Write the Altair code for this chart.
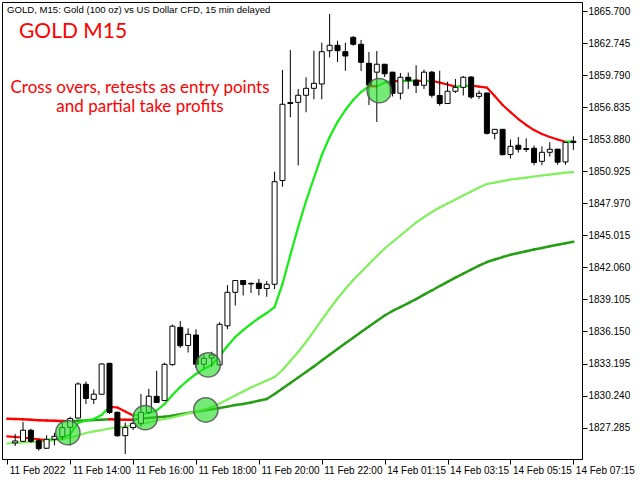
import altair as alt
import pandas as pd

# ---- GOLD M15 candles (11 Feb 12:15 .. 14 Feb 07:15), one row per bar index ----
opens = [1825.87, 1826.02, 1827.04, 1826.08, 1825.38, 1826.21, 1826.45, 1827.31, 1828.17, 1831.28,
         1829.89, 1830.36, 1833.21, 1828.70, 1826.54, 1827.29, 1827.68, 1828.70, 1830.17, 1829.78,
         1833.09, 1836.53, 1834.86, 1835.82, 1833.13, 1833.70, 1833.06, 1836.67, 1839.76, 1840.85,
         1840.53, 1840.60, 1840.11, 1840.50, 1850.07, 1857.26, 1857.28, 1857.93, 1858.57, 1858.97,
         1862.04, 1862.54, 1861.95, 1863.27, 1862.63, 1860.88, 1860.06, 1860.79, 1860.06, 1858.12,
         1859.59, 1859.32, 1858.85, 1860.06, 1857.91, 1857.17, 1858.30, 1858.66, 1859.61, 1857.83,
         1858.14, 1854.42, 1854.79, 1852.47, 1853.32, 1853.02, 1853.04, 1851.84, 1852.67, 1852.96,
         1851.78, 1853.69]
highs = [1826.70, 1827.80, 1827.18, 1826.21, 1826.58, 1826.81, 1827.71, 1828.29, 1831.46, 1831.54,
         1830.80, 1833.21, 1833.27, 1828.75, 1827.76, 1828.08, 1830.38, 1830.86, 1832.52, 1833.27,
         1836.79, 1837.11, 1836.44, 1836.35, 1834.12, 1834.28, 1837.00, 1840.42, 1840.87, 1840.87,
         1840.66, 1840.99, 1840.80, 1850.88, 1860.26, 1862.10, 1858.51, 1859.59, 1862.04, 1862.78,
         1865.42, 1862.96, 1862.78, 1863.39, 1863.03, 1861.92, 1862.01, 1860.81, 1860.08, 1859.98,
         1860.02, 1860.70, 1860.29, 1860.17, 1860.19, 1859.18, 1859.43, 1859.71, 1859.68, 1858.37,
         1858.16, 1854.82, 1854.82, 1853.85, 1854.08, 1853.96, 1853.30, 1853.21, 1853.60, 1852.97,
         1853.59, 1854.15]
lows = [1825.59, 1825.96, 1825.87, 1825.16, 1825.31, 1825.65, 1826.14, 1825.63, 1828.12, 1829.46,
        1829.46, 1830.34, 1828.54, 1826.45, 1824.85, 1827.06, 1827.37, 1828.54, 1829.55, 1829.74,
        1832.99, 1834.64, 1834.21, 1832.78, 1832.76, 1832.90, 1832.97, 1836.36, 1838.54, 1839.47,
        1839.70, 1839.47, 1839.35, 1840.07, 1849.50, 1855.90, 1851.47, 1856.36, 1857.56, 1857.56,
        1861.43, 1861.00, 1860.19, 1862.50, 1860.17, 1857.03, 1855.46, 1859.61, 1857.82, 1857.54,
        1858.51, 1858.14, 1858.51, 1857.71, 1856.97, 1857.14, 1858.14, 1857.91, 1857.60, 1857.59,
        1854.31, 1853.87, 1852.39, 1852.10, 1852.65, 1852.70, 1851.48, 1851.48, 1852.28, 1851.52,
        1851.52, 1852.88]
closes = [1826.05, 1827.04, 1826.02, 1825.34, 1826.21, 1826.48, 1827.28, 1828.12, 1831.31, 1829.97,
          1830.37, 1833.15, 1828.68, 1826.53, 1827.29, 1827.68, 1828.70, 1830.18, 1829.60, 1833.12,
          1836.64, 1834.83, 1835.89, 1833.13, 1833.68, 1833.98, 1836.81, 1839.76, 1840.85, 1840.48,
          1840.59, 1840.11, 1840.50, 1849.96, 1857.10, 1857.17, 1857.93, 1858.57, 1859.03, 1861.95,
          1862.54, 1862.04, 1861.55, 1862.63, 1860.97, 1858.88, 1860.79, 1859.91, 1858.11, 1859.59,
          1859.28, 1858.85, 1860.06, 1857.93, 1857.17, 1858.30, 1858.66, 1859.59, 1857.77, 1858.11,
          1854.42, 1854.79, 1852.45, 1853.22, 1852.95, 1852.93, 1851.73, 1852.67, 1852.95, 1851.76,
          1853.59, 1853.57]

# ---- moving averages, from bar index -1 (12:00) to 71 ----
ma_index = list(range(-1, 72))
ma_fast = [1826.47, 1826.42, 1826.37, 1826.28, 1826.21, 1826.14, 1826.21, 1826.37, 1826.65, 1827.71,
           1827.94, 1828.08, 1828.45, 1829.20, 1829.14, 1828.77, 1828.40, 1828.49, 1828.63, 1828.86,
           1829.46, 1830.29, 1831.03, 1831.67, 1832.23, 1832.69, 1833.06, 1833.89, 1834.81, 1835.64,
           1836.28, 1836.84, 1837.39, 1837.85, 1838.40, 1840.53, 1843.20, 1845.78, 1848.18, 1850.30,
           1852.42, 1854.08, 1855.46, 1856.57, 1857.49, 1858.23, 1858.78, 1858.75, 1859.10, 1859.26,
           1859.22, 1859.25, 1859.28, 1859.24, 1859.27, 1859.10, 1858.92, 1858.73, 1858.78, 1858.83,
           1858.73, 1858.64, 1857.86, 1857.03, 1856.38, 1855.74, 1855.19, 1854.72, 1854.36, 1854.08,
           1853.85, 1853.64, 1853.68]
ma_mid = [1825.82, 1825.87, 1825.91, 1825.96, 1826.00, 1826.05, 1826.14, 1826.23, 1826.37, 1826.56,
          1826.79, 1826.93, 1827.06, 1827.20, 1827.29, 1827.39, 1827.50, 1827.62, 1827.76, 1827.94,
          1828.08, 1828.22, 1828.40, 1828.58, 1828.77, 1828.95, 1829.18, 1829.51, 1829.88, 1830.24,
          1830.61, 1830.98, 1831.30, 1831.63, 1831.95, 1832.60, 1833.43, 1834.26, 1835.18, 1836.19,
          1837.21, 1838.22, 1839.19, 1840.06, 1840.89, 1841.63, 1842.37, 1843.11, 1843.80, 1844.40,
          1845.00, 1845.60, 1846.20, 1846.70, 1847.16, 1847.58, 1847.95, 1848.32, 1848.69, 1849.05,
          1849.42, 1849.75, 1849.88, 1850.02, 1850.16, 1850.25, 1850.34, 1850.44, 1850.53, 1850.62,
          1850.71, 1850.80, 1850.85]
ma_slow = [1828.10, 1828.08, 1828.05, 1828.00, 1827.97, 1827.94, 1827.91, 1827.89, 1827.88, 1827.91,
           1827.95, 1827.99, 1828.02, 1828.06, 1828.04, 1828.02, 1828.01, 1828.12, 1828.18, 1828.24,
           1828.29, 1828.39, 1828.52, 1828.64, 1828.75, 1828.87, 1828.97, 1829.09, 1829.22, 1829.36,
           1829.47, 1829.60, 1829.76, 1829.92, 1830.38, 1830.89, 1831.40, 1831.90, 1832.41, 1832.93,
           1833.47, 1834.01, 1834.53, 1835.06, 1835.57, 1836.10, 1836.61, 1837.11, 1837.62, 1838.04,
           1838.40, 1838.77, 1839.14, 1839.54, 1839.93, 1840.34, 1840.73, 1841.11, 1841.49, 1841.86,
           1842.23, 1842.55, 1842.78, 1843.01, 1843.22, 1843.38, 1843.54, 1843.70, 1843.85, 1844.00,
           1844.14, 1844.28, 1844.42]

# ---- highlighted entry / retest points (bar index, price) ----
mark_index = [6.7, 16.55, 24.55, 24.25, 46.3]
mark_price = [1826.82, 1828.20, 1833.06, 1828.91, 1858.35]

# ---- axis ticks ----
time_ticks = [-1, 7, 15, 23, 31, 39, 47, 55, 63, 71]
time_labels = ["11 Feb 2022", "11 Feb 14:00", "11 Feb 16:00", "11 Feb 18:00", "11 Feb 20:00",
               "11 Feb 22:00", "14 Feb 01:15", "14 Feb 03:15", "14 Feb 05:15", "14 Feb 07:15"]
price_ticks = [1827.285, 1830.240, 1833.195, 1836.150, 1839.105, 1842.060, 1845.015,
               1847.970, 1850.925, 1853.880, 1856.835, 1859.790, 1862.745, 1865.700]

FONT = "Liberation Sans"
RED = "#ff0000"

bars = pd.DataFrame({"i": list(range(len(opens))), "open": opens, "high": highs,
                     "low": lows, "close": closes})
bars["fill"] = ["#ffffff" if c >= o else "#000000" for o, c in zip(opens, closes)]


def segments(values, up_color, down_color):
    rows = []
    for k in range(len(values) - 1):
        rows.append({"x": ma_index[k], "x2": ma_index[k + 1], "y": values[k], "y2": values[k + 1],
                     "c": up_color if values[k + 1] >= values[k] else down_color})
    return pd.DataFrame(rows)


label_expr = " : ".join(f"datum.value == {t} ? '{l}'" for t, l in zip(time_ticks, time_labels)) + " : ''"

xscale = alt.Scale(domain=[-1.0375, 71.4625], nice=False, zero=False)
yscale = alt.Scale(domain=[1824.39, 1866.53], nice=False, zero=False)

x_axis = alt.Axis(values=time_ticks, labelExpr=label_expr, title=None, tickSize=5,
                  labelAlign="left", labelOffset=2, labelPadding=1, labelFlush=False,
                  labelOverlap=False, labelFont=FONT, labelFontSize=10, labelColor="black",
                  domainColor="black", tickColor="black")
y_axis = alt.Axis(values=price_ticks, format=".3f", orient="right", title=None, tickSize=5,
                  labelPadding=1, labelFlush=False, labelOverlap=False, labelFont=FONT,
                  labelFontSize=10, labelColor="black", domainColor="black", tickColor="black")


def ma_layer(values, up_color, width):
    return alt.Chart(segments(values, up_color, RED)).mark_rule(
        strokeWidth=width, strokeCap="round", clip=True
    ).encode(
        x=alt.X("x:Q", scale=xscale, axis=x_axis),
        x2="x2:Q",
        y=alt.Y("y:Q", scale=yscale, axis=y_axis),
        y2="y2:Q",
        color=alt.Color("c:N", scale=None),
    )


slow_layer = ma_layer(ma_slow, "#249e12", 2.5)
mid_layer = ma_layer(ma_mid, "#80f05c", 2.2)
fast_layer = ma_layer(ma_fast, "#12ee12", 2.2)

base = alt.Chart(bars)
wicks = base.mark_rule(color="black", strokeWidth=1).encode(
    x=alt.X("i:Q", scale=xscale, axis=x_axis),
    y=alt.Y("low:Q", scale=yscale, axis=y_axis),
    y2="high:Q",
)
bodies = base.mark_bar(size=5, stroke="black", strokeWidth=1).encode(
    x=alt.X("i:Q", scale=xscale, axis=x_axis),
    y=alt.Y("open:Q", scale=yscale, axis=y_axis),
    y2="close:Q",
    fill=alt.Fill("fill:N", scale=None),
)

spots = alt.Chart(pd.DataFrame({"i": mark_index, "p": mark_price})).mark_point(
    shape="circle", filled=True, size=590, fill="#22dd22", opacity=1, fillOpacity=0.62,
    stroke="#555555", strokeWidth=1.5, strokeOpacity=0.85
).encode(
    x=alt.X("i:Q", scale=xscale, axis=x_axis),
    y=alt.Y("p:Q", scale=yscale, axis=y_axis),
)


def note(text, x, y, size, color, align="left", font=FONT):
    return alt.Chart(pd.DataFrame({"t": [text]})).mark_text(
        align=align, baseline="middle", font=font, fontSize=size, color=color
    ).encode(x=alt.value(x), y=alt.value(y), text="t:N")


header = note("GOLD, M15:  Gold (100 oz) vs US Dollar CFD, 15 min delayed", 5, 8, 9.6, "black")
title = note("GOLD M15", 17, 30, 21, RED, font="Lato")
sub1 = note("Cross overs, retests as entry points", 138, 86, 17, RED, align="center", font="Lato")
sub2 = note("and partial take profits", 138, 105, 17, RED, align="center", font="Lato")

chart = alt.layer(
    slow_layer, mid_layer, fast_layer, wicks, bodies, spots, header, title, sub1, sub2
).properties(
    width=580, height=457,
    autosize=alt.AutoSizeParams(type="none"),
    padding={"left": 2, "top": 2, "right": 58, "bottom": 21},
    background="white",
).configure_view(
    stroke="black", strokeWidth=1
).configure_axis(grid=False)

chart.save("out.html", embed_options={"renderer": "svg", "actions": False})
